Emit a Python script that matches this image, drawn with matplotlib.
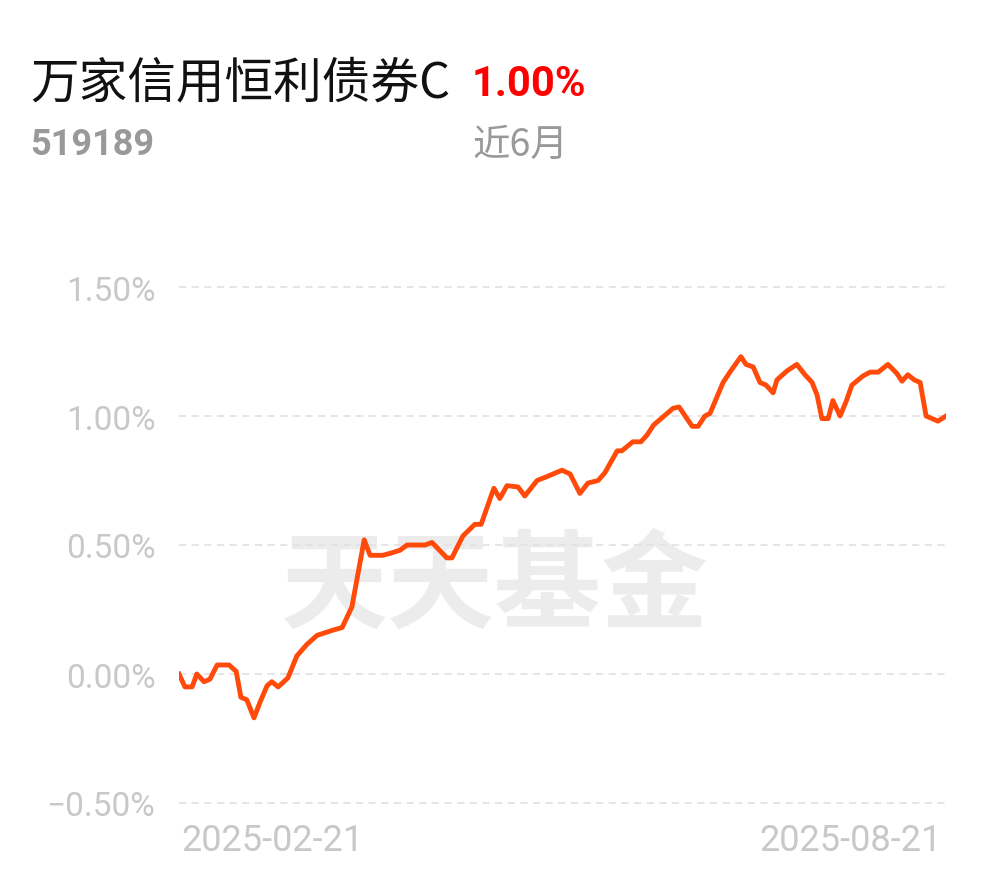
import matplotlib
matplotlib.use("Agg")
import matplotlib.pyplot as plt
import numpy as np

# days since 2025-02-21 and cumulative return (%)
days = [0, 1.4, 3.1, 4.2, 5.9, 7.3, 9.0, 11.8, 13.5, 14.6, 16.0, 17.7, 19.1, 20.8, 21.9,
        23.4, 25.7, 27.8, 30.2, 32.6, 34.5, 36.3, 38.5, 40.8, 43.7, 45.1, 48.1, 50.3, 52.2,
        53.8, 58.1, 59.7, 63.2, 64.4, 67.0, 69.8, 71.3, 74.3, 75.7, 77.4, 80.0, 81.6, 84.5,
        86.8, 90.4, 92.3, 94.6, 96.5, 98.9, 100.5, 103.4, 104.5, 107.1, 109.0, 110.4, 112.0,
        116.6, 118.0, 121.1, 122.5, 124.1, 125.3, 128.4, 130.0, 132.6, 133.8, 135.5, 137.1,
        138.5, 140.2, 141.1, 143.5, 145.8, 147.7, 149.4, 150.6, 151.7, 153.2, 154.3, 156.0,
        157.4, 158.8, 161.4, 163.1, 165.0, 167.3, 169.4, 170.6, 172.0, 173.5, 174.9, 176.3,
        179.1, 181.0]
ret = [0.00, -0.05, -0.05, 0.00, -0.03, -0.02, 0.035, 0.035, 0.01, -0.09, -0.10, -0.17,
       -0.11, -0.045, -0.03, -0.05, -0.015, 0.07, 0.115, 0.15, 0.16, 0.17, 0.18, 0.26, 0.52,
       0.46, 0.46, 0.47, 0.48, 0.50, 0.50, 0.51, 0.45, 0.45, 0.535, 0.58, 0.58, 0.72, 0.68,
       0.73, 0.725, 0.69, 0.75, 0.765, 0.79, 0.775, 0.70, 0.74, 0.75, 0.78, 0.865, 0.865,
       0.90, 0.90, 0.925, 0.965, 1.03, 1.035, 0.96, 0.96, 1.00, 1.01, 1.13, 1.17, 1.23, 1.20,
       1.19, 1.13, 1.12, 1.09, 1.14, 1.175, 1.20, 1.16, 1.13, 1.08, 0.99, 0.99, 1.06, 1.00,
       1.055, 1.12, 1.155, 1.17, 1.17, 1.20, 1.165, 1.135, 1.16, 1.14, 1.13, 1.00, 0.98, 1.00]

yticks = [-0.5, 0.0, 0.5, 1.0, 1.5]
ytick_labels = ["\u22120.50%", "0.00%", "0.50%", "1.00%", "1.50%"]
start_label = "2025-02-21"
end_label = "2025-08-21"
fund_name = "万家信用恒利债券C"
fund_code = "519189"
period_ret = "1.00%"
period = "近6月"

plt.rcParams['font.family'] = ['Noto Sans CJK SC', 'DejaVu Sans']

W, H = 990, 878
fig = plt.figure(figsize=(W / 100, H / 100), dpi=100)

ymin, ymax = -0.52, 1.52
ppu = 258.0  # pixels per 1%
top_px = 417 - (ymax - 1.0) * ppu
bot_px = 417 + (1.0 - ymin) * ppu
ax = fig.add_axes([179 / W, 1 - bot_px / H, (946 - 179) / W, (bot_px - top_px) / H])
ax.set_xlim(0, 181)
ax.set_ylim(ymin, ymax)

for y in yticks:
    ax.axhline(y, color='#e3e3e3', lw=1.3, ls=(0, (4, 3)), zorder=1)

# watermark
ax.text(495 / W, 1 - 588 / H, "天天基金", transform=fig.transFigure, ha='center', va='center',
        fontsize=77, fontweight='bold', color='#ececec', zorder=0,
        family=['Noto Sans CJK SC'])

ax.plot(days, ret, color='#ff4a0a', lw=3.5, solid_joinstyle='round', zorder=3)

ax.set_yticks(yticks)
ax.set_yticklabels(ytick_labels, fontsize=24, color='#c8c8c8', family=['Roboto', 'DejaVu Sans'])
ax.tick_params(axis='y', length=0, pad=17)
ax.set_xticks([])
for s in ax.spines.values():
    s.set_visible(False)

fig.text(181 / W, 1 - 841 / H, start_label, ha='left', va='center', fontsize=26,
         color='#c8c8c8', family=['Roboto', 'DejaVu Sans'])
fig.text(942 / W, 1 - 841 / H, end_label, ha='right', va='center', fontsize=26,
         color='#c8c8c8', family=['Roboto', 'DejaVu Sans'])

# header
fig.text(30 / W, 1 - 84 / H, fund_name, ha='left', va='center', fontsize=35, color='#111111')
fig.text(472 / W, 1 - 84 / H, period_ret, ha='left', va='center', fontsize=30,
         fontweight='bold', color='#ff0000', family=['Roboto', 'DejaVu Sans'])
fig.text(30 / W, 1 - 145 / H, fund_code, ha='left', va='center', fontsize=26,
         fontweight='bold', color='#999999', family=['Roboto', 'DejaVu Sans'])
fig.text(472 / W, 1 - 145 / H, period, ha='left', va='center', fontsize=27, color='#999999')

fig.savefig("out.png", dpi=100, facecolor='white')
